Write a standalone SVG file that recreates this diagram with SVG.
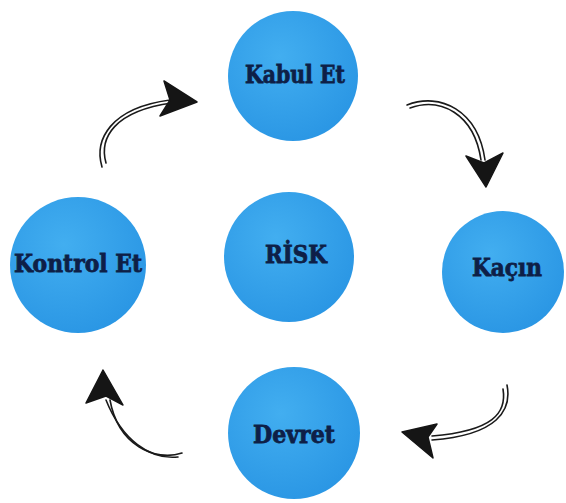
<svg xmlns="http://www.w3.org/2000/svg" width="566" height="503" viewBox="0 0 566 503">
<defs>
<radialGradient id="g" cx="0.4" cy="0.35" r="0.75">
<stop offset="0" stop-color="#42aef0"/>
<stop offset="1" stop-color="#2894e3"/>
</radialGradient>
</defs>
<style>
.c{fill:url(#g);}
.t{font-family:"DejaVu Serif","Liberation Serif",serif;font-weight:bold;fill:#0e1f47;stroke:#0e1f47;stroke-width:0.8;text-anchor:middle;}
.s{fill:none;stroke:#1a1a1a;stroke-width:1.6;stroke-linecap:round;}
.h{fill:#151515;stroke:#151515;stroke-width:1.5;stroke-linejoin:round;}
</style>
<rect width="566" height="503" fill="#ffffff"/>
<g id="kabul">
<circle class="c" cx="293" cy="76" r="65"/>
<text class="t" x="295" y="83" font-size="24" textLength="100" lengthAdjust="spacingAndGlyphs">Kabul Et</text>
</g>
<g id="kontrol">
<circle class="c" cx="78" cy="265" r="68"/>
<text class="t" x="78" y="272" font-size="24" textLength="128" lengthAdjust="spacingAndGlyphs">Kontrol Et</text>
</g>
<g id="risk">
<circle class="c" cx="289" cy="257" r="65"/>
<text class="t" x="296" y="263" font-size="24" textLength="62" lengthAdjust="spacingAndGlyphs">RİSK</text>
</g>
<g id="kacin">
<circle class="c" cx="503" cy="272" r="61"/>
<text class="t" x="507" y="276" font-size="24" textLength="70" lengthAdjust="spacingAndGlyphs">Kaçın</text>
</g>
<g id="devret">
<circle class="c" cx="294" cy="433" r="66"/>
<text class="t" x="294" y="443" font-size="24" textLength="82" lengthAdjust="spacingAndGlyphs">Devret</text>
</g>
<g id="connectors">
<path class="s" d="M102,167 C94,140 110,108 170,100"/>
<path class="s" d="M106,163 C99,138 114,111 172,103"/>
<polygon class="h" points="197,102 164,81 170,100 160,116"/>
<path class="s" d="M407,105 C440,92 478,110 485,160"/>
<path class="s" d="M410,108 C440,97 474,113 481,160"/>
<polygon class="h" points="486,187 466,156 484,163 503,153"/>
<path class="s" d="M507,385 C512,410 498,435 432,440"/>
<path class="s" d="M503,389 C507,413 493,431 432,436"/>
<polygon class="h" points="402,432 437,424 428,437 433,458"/>
<path class="s" d="M182,453 C155,462 118,445 110,400"/>
<path class="s" d="M178,457 C150,460 122,440 106,400"/>
<polygon class="h" points="103,370 86,403 106,396 123,405"/>
</g>
</svg>
